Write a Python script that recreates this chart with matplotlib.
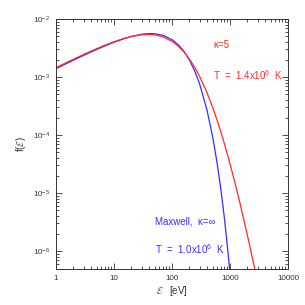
import numpy as np
import matplotlib
matplotlib.use("Agg")
import matplotlib.pyplot as plt
from matplotlib.ticker import LogLocator, NullFormatter, FixedLocator, FixedFormatter

# energies [eV] and distribution values
maxwell_e = [1, 2, 3, 5, 7, 10, 15, 20, 30, 40, 50, 70, 100, 130, 160,
             200, 250, 300, 400, 500, 600, 700, 800, 900, 1000, 1100]
maxwell_f = [1.394e-3, 1.949e-3, 2.360e-3, 2.977e-3, 3.441e-3, 3.972e-3,
             4.591e-3, 5.002e-3, 5.455e-3, 5.609e-3, 5.584e-3, 5.238e-3,
             4.420e-3, 3.558e-3, 2.787e-3, 1.959e-3, 1.226e-3, 7.52e-4,
             2.719e-4, 9.52e-5, 3.27e-5, 1.107e-5, 3.71e-6, 1.23e-6,
             4.07e-7, 1.34e-7]

kappa_e = [1, 2, 3, 5, 7, 10, 15, 20, 30, 40, 50, 70, 100, 130, 160,
           200, 250, 300, 400, 500, 600, 700, 800, 1000, 1200, 1500,
           2000, 2500, 3000]
kappa_f = [1.456e-3, 2.030e-3, 2.451e-3, 3.077e-3, 3.540e-3, 4.058e-3,
           4.638e-3, 5.002e-3, 5.357e-3, 5.425e-3, 5.334e-3, 4.920e-3,
           4.123e-3, 3.362e-3, 2.716e-3, 2.038e-3, 1.433e-3, 1.020e-3,
           5.411e-4, 3.038e-4, 1.794e-4, 1.107e-4, 7.085e-5, 3.192e-5,
           1.587e-5, 6.423e-6, 1.846e-6, 6.70e-7, 2.843e-7]

x_ticks = [1, 10, 100, 1000, 10000]
x_ticklabels = ["1", "10", "100", "1000", "10000"]
y_ticks = [1e-6, 1e-5, 1e-4, 1e-3, 1e-2]
y_ticklabels = [r"10$^{-6}$", r"10$^{-5}$", r"10$^{-4}$", r"10$^{-3}$", r"10$^{-2}$"]

red = "#ff2a2a"
blue = "#3c2cff"
ink = "#333333"

plt.rcParams["font.family"] = ["Liberation Sans", "DejaVu Sans"]
plt.rcParams["mathtext.fontset"] = "custom"
plt.rcParams["mathtext.rm"] = "Liberation Sans"
plt.rcParams["mathtext.it"] = "Liberation Sans:italic"
plt.rcParams["mathtext.cal"] = "cmsy10"

fig = plt.figure(figsize=(3.05, 3.05), dpi=100)
ax = fig.add_axes([0.1836, 0.118, 0.7607, 0.8197])

ax.plot(maxwell_e, maxwell_f, color=blue, lw=0.9)
ax.plot(kappa_e, kappa_f, color=red, lw=0.9)

ax.set_xscale("log")
ax.set_yscale("log")
ax.set_xlim(1, 10000)
ax.set_ylim(4.9e-7, 1e-2)

ax.xaxis.set_major_locator(FixedLocator(x_ticks))
ax.xaxis.set_major_formatter(FixedFormatter(x_ticklabels))
ax.yaxis.set_major_locator(FixedLocator(y_ticks))
ax.yaxis.set_major_formatter(FixedFormatter(y_ticklabels))
ax.xaxis.set_minor_locator(LogLocator(base=10, subs=np.arange(2, 10)))
ax.yaxis.set_minor_locator(LogLocator(base=10, subs=np.arange(2, 10)))
ax.xaxis.set_minor_formatter(NullFormatter())
ax.yaxis.set_minor_formatter(NullFormatter())

ax.tick_params(which="both", direction="in", top=True, right=True,
               width=0.6, color=ink, labelsize=5.8, labelcolor=ink)
ax.tick_params(which="major", length=4, pad=4)
ax.tick_params(which="minor", length=2)
for sp in ax.spines.values():
    sp.set_linewidth(0.7)
    sp.set_color(ink)

ax.set_xlabel(r"$\mathcal{E}$   [eV]", fontsize=7, color=ink, labelpad=2)
ax.set_ylabel(r"f($\mathcal{E}$)", fontsize=7, color=ink, labelpad=4)

ax.text(0.677, 0.896, "κ=5", transform=ax.transAxes, color=red,
        fontsize=7, va="center", ha="left")
ax.text(0.677, 0.776, r"T  =  1.4x10$^{6}$  K", transform=ax.transAxes,
        color=red, fontsize=7, va="center", ha="left")
ax.text(0.427, 0.192, "Maxwell,  κ=∞", transform=ax.transAxes,
        color=blue, fontsize=7, va="center", ha="left")
ax.text(0.427, 0.08, r"T  =  1.0x10$^{6}$  K", transform=ax.transAxes,
        color=blue, fontsize=7, va="center", ha="left")

fig.savefig("out.png", dpi=100)
plt.close(fig)
